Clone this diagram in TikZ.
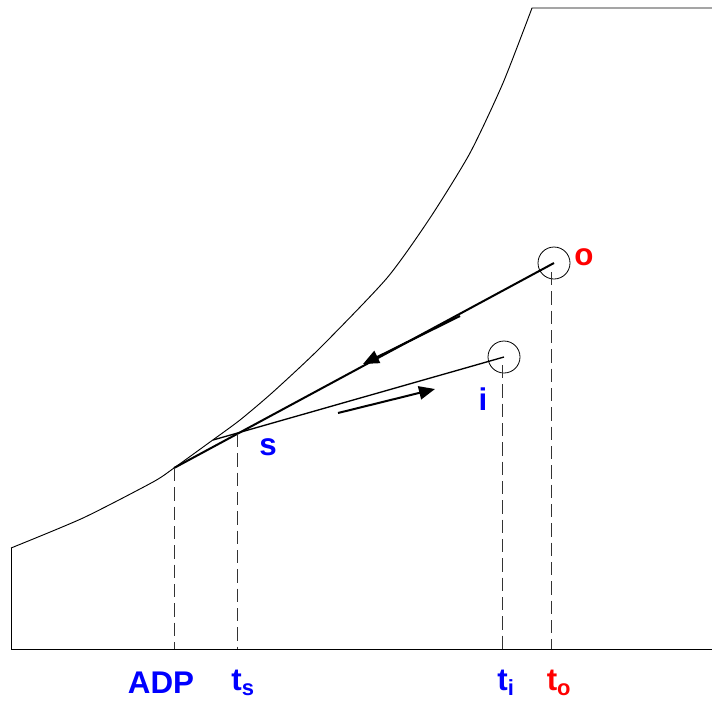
\documentclass[tikz,border=0pt]{standalone}
\usepackage{fontspec}
\setmainfont{Liberation Sans}
\usetikzlibrary{arrows.meta}
\definecolor{lblblue}{RGB}{0,0,255}
\definecolor{lblred}{RGB}{255,0,0}
\tikzset{
  thinline/.style={line width=0.7pt, black},
  thickline/.style={line width=1.5pt, black},
  guide/.style={line width=0.7pt, black!80, dash pattern=on 10pt off 4.5pt},
  marker/.style={circle, draw, line width=0.6pt, minimum size=24pt, inner sep=0pt},
  lbl/.style={font=\fontsize{23.5}{23.5}\selectfont\bfseries, inner sep=0pt},
  dirarrow/.style={line width=1.5pt, -{Triangle[length=12pt, width=10pt]}},
}
\begin{document}
\begin{tikzpicture}[x=0.75pt,y=-0.75pt]
\useasboundingbox (0,0) rectangle (712,700);
% axis frame
\coordinate (bl) at (11,649);
\coordinate (br) at (712,649);
\coordinate (cl) at (11,548);
\draw[thinline] (cl) -- (bl) -- (br);
% curve
\draw[thinline] plot[smooth, tension=0.4] coordinates {(11,548) (83,518) (153,482) (174,468) (210,442) (240,420) (273,392) (320,348) (387,278) (430,218) (470,153) (503,83) (532,8)} -- (712,8);
% key points
\coordinate (adp) at (174,468);
\coordinate (spt) at (237,434);
\coordinate (touch) at (213,440);
\node[marker] (ocirc) at (554,263) {};
\node[marker] (icirc) at (504,357) {};
% foot points
\coordinate (adpb) at (174,649);
\coordinate (sb) at (237,649);
\coordinate (ib) at (502,649);
\coordinate (ob) at (551,649);
\coordinate (itop) at (502,365);
\coordinate (otop) at (551,272);
% lines
\draw[thickline] (adp) -- (ocirc.center);
\draw[thinline, line width=1pt] (touch) -- (icirc.center);
% arrows
\coordinate (a1s) at (460,316);
\coordinate (a1e) at (363,364);
\coordinate (a2s) at (338,413);
\coordinate (a2e) at (435,389);
\draw[dirarrow] (a1s) -- (a1e);
\draw[dirarrow] (a2s) -- (a2e);
% guides
\draw[guide] (adp) -- (adpb);
\draw[guide] (spt) -- (sb);
\draw[guide] (itop) -- (ib);
\draw[guide] (otop) -- (ob);
% labels
\node[lbl, text=lblred] (olbl) at (584,257) {o};
\node[lbl, text=lblblue] (ilbl) at (483,399) {i};
\node[lbl, text=lblblue] (slbl) at (268,447) {s};
\node[lbl, text=lblblue] (adplbl) at (161,683) {ADP};
\node[lbl, text=lblblue] (tslbl) at (243,683) {t\textsubscript{s}};
\node[lbl, text=lblblue] (tilbl) at (506,683) {t\textsubscript{i}};
\node[lbl, text=lblred] (tolbl) at (559,683) {t\textsubscript{o}};
\end{tikzpicture}
\end{document}
